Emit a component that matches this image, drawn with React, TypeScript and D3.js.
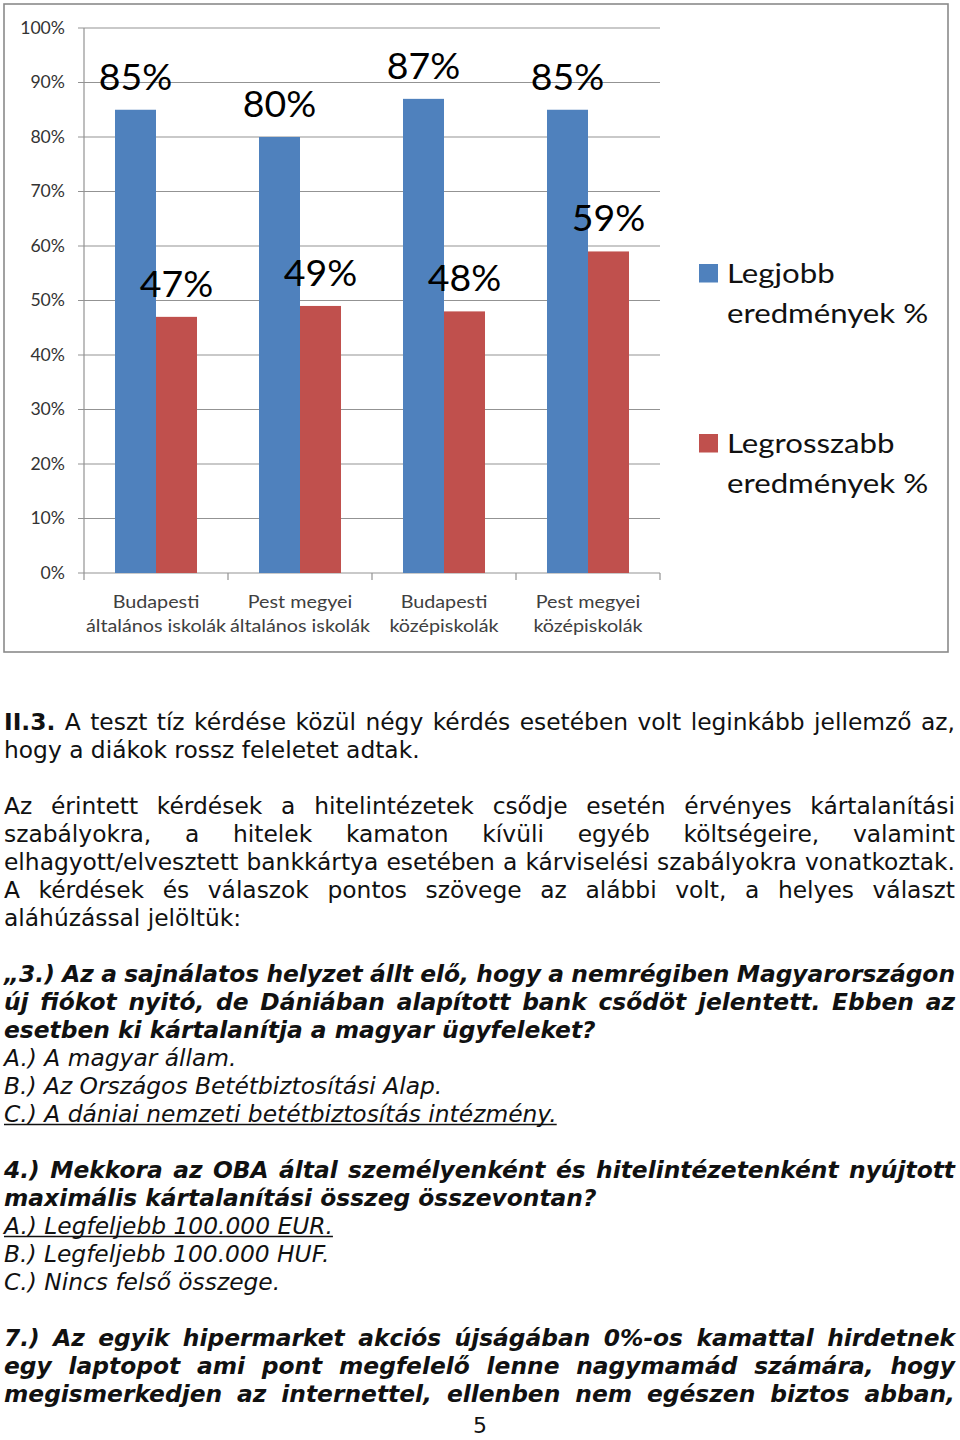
import React from "react";
import * as d3 from "d3";

// ---------- chart data ----------
const categories = ["bp-alt", "pm-alt", "bp-koz", "pm-koz"];
const categoryLabels = [
  ["Budapesti", "általános iskolák"],
  ["Pest megyei", "általános iskolák"],
  ["Budapesti", "középiskolák"],
  ["Pest megyei", "középiskolák"],
];
const seriesKeys = ["best", "worst"];
const bestValues = [0.85, 0.8, 0.87, 0.85];
const worstValues = [0.47, 0.49, 0.48, 0.59];
const seriesLegend = [
  ["Legjobb", "eredmények %"],
  ["Legrosszabb", "eredmények %"],
];
const seriesColors = ["#4F81BD", "#C0504D"];
const yTicks = [0, 0.1, 0.2, 0.3, 0.4, 0.5, 0.6, 0.7, 0.8, 0.9, 1.0];

// ---------- document text ----------
type Line = { row: number; text: string; style: "r" | "i" | "bi"; justify?: boolean; underline?: boolean; boldWords?: number };
const textLines: Line[] = [
  { row: 0, text: "II.3. A teszt tíz kérdése közül négy kérdés esetében volt leginkább jellemző az,", style: "r", justify: true, boldWords: 1 },
  { row: 1, text: "hogy a diákok rossz feleletet adtak.", style: "r" },
  { row: 3, text: "Az érintett kérdések a hitelintézetek csődje esetén érvényes kártalanítási", style: "r", justify: true },
  { row: 4, text: "szabályokra, a hitelek kamaton kívüli egyéb költségeire, valamint", style: "r", justify: true },
  { row: 5, text: "elhagyott/elvesztett bankkártya esetében a kárviselési szabályokra vonatkoztak.", style: "r", justify: true },
  { row: 6, text: "A kérdések és válaszok pontos szövege az alábbi volt, a helyes választ", style: "r", justify: true },
  { row: 7, text: "aláhúzással jelöltük:", style: "r" },
  { row: 9, text: "„3.) Az a sajnálatos helyzet állt elő, hogy a nemrégiben Magyarországon", style: "bi", justify: true },
  { row: 10, text: "új fiókot nyitó, de Dániában alapított bank csődöt jelentett. Ebben az", style: "bi", justify: true },
  { row: 11, text: "esetben ki kártalanítja a magyar ügyfeleket?", style: "bi" },
  { row: 12, text: "A.) A magyar állam.", style: "i" },
  { row: 13, text: "B.) Az Országos Betétbiztosítási Alap.", style: "i" },
  { row: 14, text: "C.) A dániai nemzeti betétbiztosítás intézmény.", style: "i", underline: true },
  { row: 16, text: "4.) Mekkora az OBA által személyenként és hitelintézetenként nyújtott", style: "bi", justify: true },
  { row: 17, text: "maximális kártalanítási összeg összevontan?", style: "bi" },
  { row: 18, text: "A.) Legfeljebb 100.000 EUR.", style: "i", underline: true },
  { row: 19, text: "B.) Legfeljebb 100.000 HUF.", style: "i" },
  { row: 20, text: "C.) Nincs felső összege.", style: "i" },
  { row: 22, text: "7.) Az egyik hipermarket akciós újságában 0%-os kamattal hirdetnek", style: "bi", justify: true },
  { row: 23, text: "egy laptopot ami pont megfelelő lenne nagymamád számára, hogy", style: "bi", justify: true },
  { row: 24, text: "megismerkedjen az internettel, ellenben nem egészen biztos abban,", style: "bi", justify: true },
];
const pageNumber = "5";

const TEXT_FONT = "DejaVu Sans";
const TEXT_SIZE = 23.35;
const CHART_FONT = "Lato, 'Open Sans', sans-serif";

let _ctx: CanvasRenderingContext2D | null = null;
function measure(text: string, style: "r" | "i" | "bi" | "b"): number {
  if (!_ctx) _ctx = document.createElement("canvas").getContext("2d");
  const it = style === "i" || style === "bi" ? "italic " : "";
  const bw = style === "b" || style === "bi" ? "bold " : "";
  _ctx!.font = `${it}${bw}${TEXT_SIZE}px "${TEXT_FONT}"`;
  return _ctx!.measureText(text).width;
}
function styleAttrs(style: string) {
  return {
    fontStyle: style === "i" || style === "bi" ? "italic" : "normal",
    fontWeight: style === "b" || style === "bi" ? "bold" : "normal",
  };
}

export default function App() {
  const W = 960, H = 1440;
  // chart layout
  const plot = { left: 84, right: 660, top: 28, bottom: 573 };
  const x = d3.scaleBand<string>().domain(categories).range([plot.left, plot.right]).paddingInner(0).paddingOuter(0);
  const inner = d3.scaleBand<string>().domain(seriesKeys).range([0, x.bandwidth()]).paddingInner(0).paddingOuter(0.756);
  const y = d3.scaleLinear().domain([0, 1]).range([plot.bottom, plot.top]);
  const fmt = d3.format(".0%");
  const series = [bestValues, worstValues];

  // text layout
  const textLeft = 4, textRight = 955, firstBaseline = 730, lineH = 28;

  return (
    <svg width={W} height={H} viewBox={`0 0 ${W} ${H}`} style={{ position: "absolute", left: 0, top: 0, background: "#fff" }}>
      <rect x={0} y={0} width={W} height={H} fill="#fff" />
      {/* chart frame */}
      <rect x={4} y={4} width={944} height={648} fill="#fff" stroke="#8a8a8a" strokeWidth={1.6} />
      {/* gridlines + y ticks */}
      {yTicks.map((t) => (
        <g key={t}>
          <line x1={plot.left - 6} x2={plot.right} y1={y(t)} y2={y(t)} stroke="#939393" strokeWidth={1.2} />
          <text transform={`translate(65, ${y(t)}) scale(1.07, 1)`} dy="0.35em" textAnchor="end" fontFamily={CHART_FONT} fontSize={16.5} fill="#333">
            {fmt(t)}
          </text>
        </g>
      ))}
      {/* y axis */}
      <line x1={plot.left} x2={plot.left} y1={plot.top} y2={plot.bottom} stroke="#939393" strokeWidth={1.2} />
      {/* x axis ticks */}
      {[...categories.map((c) => x(c)!), plot.right].map((xx, i) => (
        <line key={i} x1={xx} x2={xx} y1={plot.bottom} y2={plot.bottom + 7} stroke="#939393" strokeWidth={1.2} />
      ))}
      {/* bars */}
      {series.map((vals, si) =>
        categories.map((c, ci) => {
          const bx = x(c)! + inner(seriesKeys[si])!;
          const by = y(vals[ci]);
          return (
            <g key={`${si}-${ci}`}>
              <rect x={bx} y={by} width={inner.bandwidth()} height={plot.bottom - by} fill={seriesColors[si]} />
              <text transform={`translate(${bx + inner.bandwidth() / 2}, ${by - 20}) scale(1.04, 1)`} textAnchor="middle" fontFamily={CHART_FONT} fontSize={36} fill="#000">
                {fmt(vals[ci])}
              </text>
            </g>
          );
        })
      )}
      {/* category labels */}
      {categories.map((c, ci) => (
        <text key={c} transform={`translate(${x(c)! + x.bandwidth() / 2}, 0) scale(1.13, 1)`} textAnchor="middle" fontFamily={CHART_FONT} fontSize={17.5} fill="#404040">
          {categoryLabels[ci].map((l, li) => (
            <tspan key={li} x={0} y={608 + li * 24}>{l}</tspan>
          ))}
        </text>
      ))}
      {/* legend */}
      {seriesKeys.map((k, si) => (
        <g key={k} transform={`translate(699, ${264 + si * 170})`}>
          <rect x={0} y={0} width={19} height={18.5} fill={seriesColors[si]} />
          <text transform="translate(28, 0) scale(1.2, 1)" fontFamily={CHART_FONT} fontSize={26} fill="#111">
            {seriesLegend[si].map((l, li) => (
              <tspan key={li} x={0} y={19 + li * 40}>{l}</tspan>
            ))}
          </text>
        </g>
      ))}

      {/* document text */}
      {textLines.map((ln) => {
        const baseline = firstBaseline + ln.row * lineH;
        const words = ln.text.split(" ");
        const wStyle = (wi: number) => (ln.boldWords && wi < ln.boldWords ? "b" : ln.style);
        const widths = words.map((w, wi) => measure(w, wStyle(wi) as any));
        const spaceW = measure(" ", ln.style);
        const positions: number[] = [];
        if (ln.justify && words.length > 1) {
          const total = widths.reduce((a, b) => a + b, 0);
          const gap = (textRight - textLeft - total) / (words.length - 1);
          let cx = textLeft;
          widths.forEach((w) => { positions.push(cx); cx += w + gap; });
        } else {
          let cx = textLeft;
          widths.forEach((w) => { positions.push(cx); cx += w + spaceW; });
        }
        const endX = positions[positions.length - 1] + widths[widths.length - 1];
        return (
          <g key={ln.row}>
            <text y={baseline} fontFamily={TEXT_FONT} fontSize={TEXT_SIZE} fill="#111">
              {words.map((w, wi) => (
                <tspan key={wi} x={positions[wi]} {...styleAttrs(wStyle(wi))}>{w}</tspan>
              ))}
            </text>
            {ln.underline && (
              <line x1={textLeft} x2={endX} y1={baseline + 2.5} y2={baseline + 2.5} stroke="#111" strokeWidth={1.4} />
            )}
          </g>
        );
      })}
      <text x={480} y={1433} textAnchor="middle" fontFamily={TEXT_FONT} fontSize={22} fill="#111">{pageNumber}</text>
    </svg>
  );
}
